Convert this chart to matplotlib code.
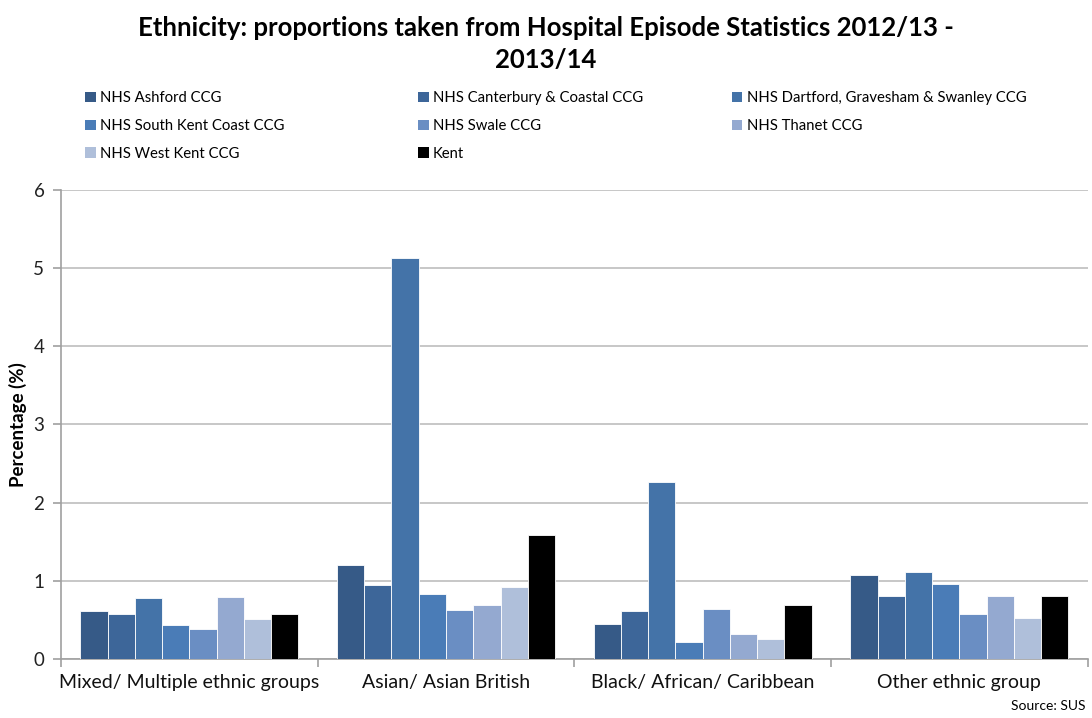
import numpy as np
import matplotlib.pyplot as plt
from matplotlib.patches import Patch

plt.rcParams["font.family"] = ["Lato", "DejaVu Sans"]

categories = ["Mixed/ Multiple ethnic groups", "Asian/ Asian British",
              "Black/ African/ Caribbean", "Other ethnic group"]
series_names = ["NHS Ashford CCG", "NHS Canterbury & Coastal CCG",
                "NHS Dartford, Gravesham & Swanley CCG", "NHS South Kent Coast CCG",
                "NHS Swale CCG", "NHS Thanet CCG", "NHS West Kent CCG", "Kent"]
ashford = [0.61, 1.20, 0.45, 1.07]
canterbury = [0.58, 0.94, 0.62, 0.81]
dartford = [0.78, 5.13, 2.26, 1.11]
south_kent = [0.44, 0.83, 0.22, 0.96]
swale = [0.38, 0.63, 0.64, 0.57]
thanet = [0.79, 0.69, 0.32, 0.80]
west_kent = [0.51, 0.92, 0.26, 0.52]
kent = [0.58, 1.59, 0.69, 0.80]
series_values = [ashford, canterbury, dartford, south_kent, swale, thanet, west_kent, kent]
colors = ["#365A87", "#3D6699", "#4473A8", "#4A7CB7", "#6A8EC3", "#94A9D0", "#AFBFDA", "#000000"]

fig = plt.figure(figsize=(10.92, 7.18), dpi=100)
ax = fig.add_axes([0.0559, 0.0822, 0.9401, 0.6533])

n = len(series_values)
group_w = 0.85
bw = group_w / n
x = np.arange(len(categories))
for i, (vals, c) in enumerate(zip(series_values, colors)):
    ax.bar(x - group_w / 2 + bw * (i + 0.5), vals, width=bw, color=c,
           edgecolor="white", linewidth=0.6, zorder=3)

ax.set_xlim(-0.5, len(categories) - 0.5)
ax.set_ylim(0, 6)
ax.set_yticks(range(7))
ax.yaxis.grid(True, color="#BEBEBE", linewidth=1.2, zorder=0)
ax.set_xticks(x)
ax.set_xticklabels(categories, fontsize=14)
ax.set_xticks(np.arange(-0.5, len(categories)), minor=True)
ax.tick_params(axis="x", which="major", length=0, pad=11, colors="#111111")
ax.tick_params(axis="x", which="minor", length=6, color="#A0A0A0", width=1.2)
ax.tick_params(axis="y", length=6, color="#A0A0A0", width=1.2, labelsize=13.5, pad=6,
               labelcolor="#222222")
for s in ["top", "right"]:
    ax.spines[s].set_visible(False)
for s in ["left", "bottom"]:
    ax.spines[s].set_color("#A0A0A0")
    ax.spines[s].set_linewidth(1.2)
ax.set_ylabel("Percentage (%)", fontsize=13.5, fontweight="bold", va="center")
ax.yaxis.set_label_coords(-0.042, 0.5)

fig.text(0.5, 0.978, "Ethnicity: proportions taken from Hospital Episode Statistics 2012/13 -\n2013/14",
         ha="center", va="top", fontsize=18.5, fontweight="bold", linespacing=1.42)

# legend laid out row by row in three fixed columns
col_x = [0.078, 0.383, 0.670]
for col in range(3):
    idx = list(range(col, n, 3))
    handles = [Patch(facecolor=colors[i]) for i in idx]
    labels = [series_names[i] for i in idx]
    leg = fig.legend(handles, labels, loc="upper left", bbox_to_anchor=(col_x[col], 0.873),
                     frameon=False, fontsize=10.7, handlelength=0.7, handleheight=0.7,
                     handletextpad=0.3, labelspacing=0.93, borderaxespad=0, borderpad=0)

fig.text(0.994, 0.008, "Source: SUS", ha="right", va="bottom", fontsize=10)

fig.savefig("out.png", dpi=100)
